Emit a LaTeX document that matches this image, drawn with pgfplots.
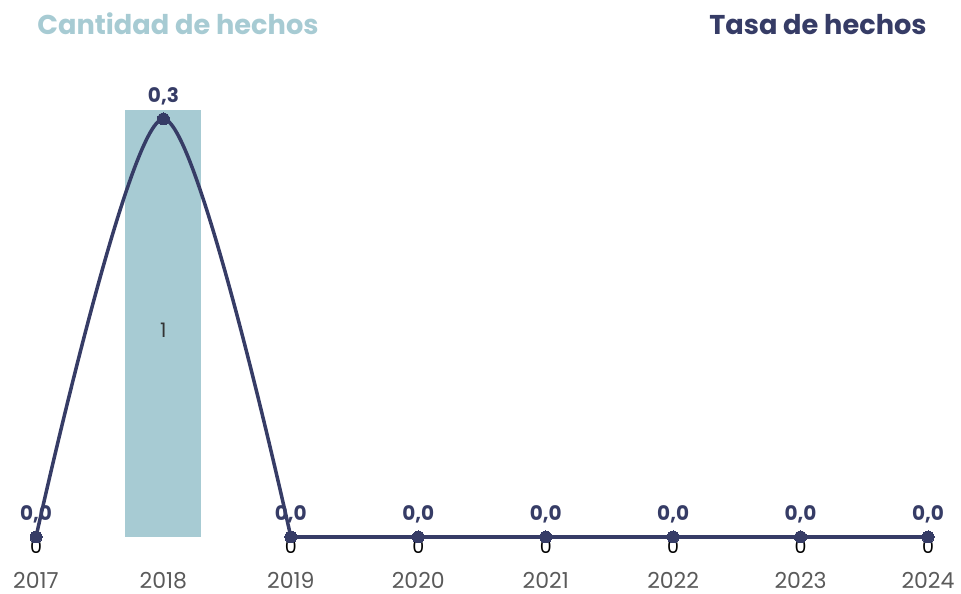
\documentclass[border=0pt]{standalone}
\usepackage{fontspec}
\setmainfont{Poppins}
\usepackage{pgfplots}
\pgfplotsset{compat=1.18}
\definecolor{barc}{HTML}{A7CBD3}
\definecolor{navy}{HTML}{363C66}
\definecolor{yearc}{HTML}{5A5A5A}
\begin{document}
\begin{tikzpicture}
\path[use as bounding box] (0,0) rectangle (480.5pt,296.5pt);
\node[anchor=base west, text=barc, font=\bfseries\fontsize{13.6}{15}\selectfont, inner sep=0pt] at (18.5pt,279pt) {Cantidad de hechos};
\node[anchor=base east, text=navy, font=\bfseries\fontsize{13.6}{15}\selectfont, inner sep=0pt] at (463.5pt,279pt) {Tasa de hechos};
\begin{axis}[at={(18pt,28pt)}, anchor=south west, scale only axis,
  width=446pt, height=213.5pt, xmin=0, xmax=7, ymin=0, ymax=1,
  clip=false, axis line style={draw=none}, major tick length=0pt,
  ytick=\empty, xtick={0,...,7},
  xticklabels={2017,2018,2019,2020,2021,2022,2023,2024},
  xticklabel style={anchor=base, yshift=-25.5pt, text=yearc, font=\fontsize{11}{13}\selectfont, inner sep=0pt}]
% Cantidad de hechos: 0 in every year except 2018 (1)
\addplot[ybar, bar width=38pt, fill=barc, draw=none] coordinates {(1,1)};
\addplot[draw=none, mark=none, nodes near coords, point meta=explicit symbolic,
  nodes near coords style={anchor=center, font=\fontsize{10}{12}\selectfont, text=black!80}] coordinates {(1,0.485) [1]};
\addplot[draw=none, mark=none, nodes near coords, point meta=explicit symbolic,
  nodes near coords style={anchor=center, yshift=-4.6pt, font=\fontsize{9.5}{11}\selectfont, text=black}]
  coordinates {(0,0) [0] (2,0) [0] (3,0) [0] (4,0) [0] (5,0) [0] (6,0) [0] (7,0) [0]};
\end{axis}
\begin{axis}[at={(18pt,28pt)}, anchor=south west, scale only axis,
  width=446pt, height=209pt, xmin=0, xmax=7, ymin=0, ymax=0.3,
  clip=false, hide axis]
\addplot[navy, line width=1.75pt, smooth] coordinates {(0,0) (1,0.3) (2,0)};
\addplot[navy, line width=1.75pt] coordinates {(2,0) (3,0) (4,0) (5,0) (6,0) (7,0)};
\addplot[only marks, mark=*, mark size=3pt, mark options={fill=navy, draw=navy, line width=0pt},
  nodes near coords, point meta=explicit symbolic,
  nodes near coords style={anchor=base, yshift=8pt, font=\bfseries\fontsize{10}{12}\selectfont, text=navy}]
  coordinates {(0,0) [0,0] (1,0.3) [0,3] (2,0) [0,0] (3,0) [0,0] (4,0) [0,0] (5,0) [0,0] (6,0) [0,0] (7,0) [0,0]};
\end{axis}
\end{tikzpicture}
\end{document}
